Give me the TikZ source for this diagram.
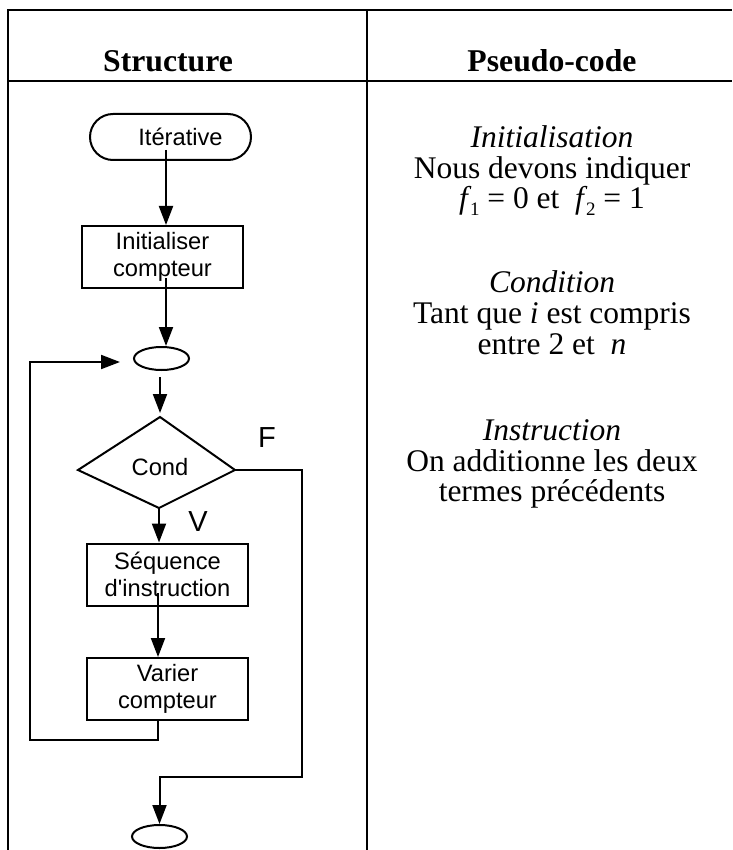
\documentclass[tikz,border=0pt]{standalone}
\usepackage{fontspec}
\setmainfont{Liberation Serif}
\newfontfamily\arial{Liberation Sans}
\usetikzlibrary{arrows.meta,shapes.geometric,calc}
% lowered index digit for f_1, f_2
\newcommand\lowidx[1]{\kern-1.5pt\raisebox{-0.22em}{\fontsize{19}{19}\selectfont #1}}

\begin{document}
\begin{tikzpicture}[x=1pt,y=-1pt,
  flow/.style={line width=2pt},
  arr/.style={flow,-{Triangle[length=19pt,width=14pt]}},
  tbl/.style={line width=2.3pt},
  sans/.style={font=\arial\fontsize{23.7}{26.5}\selectfont},
  stepbox/.style={draw,flow,sans,minimum width=161pt,minimum height=62pt,inner sep=0pt,align=center},
  term/.style={draw,flow,minimum width=161pt,minimum height=46pt,rounded corners=23pt,inner sep=0pt},
  junction/.style={draw,flow,ellipse,minimum width=55pt,minimum height=23pt,inner sep=0pt},
  branch/.style={font=\arial\fontsize{29}{29}\selectfont,inner sep=0pt},
  hdr/.style={font=\bfseries\fontsize{31.7}{32}\selectfont,anchor=base,inner sep=0pt},
  txt/.style={font=\fontsize{31.5}{32}\selectfont,anchor=base,inner sep=0pt},
]
\useasboundingbox (0,0) rectangle (732,850);

% table frame
\draw[tbl] (8,850) -- (8,10) -- (732,10);
\draw[tbl] (367,10) -- (367,850);
\draw[tbl] (8,81) -- (732,81);

% column headers
\node[hdr] (hstruct) at (168,72) {Structure};
\node[hdr] (hpseudo) at (552,72) {Pseudo-code};

% flowchart nodes
\node[term,label={[sans,xshift=10pt]center:Itérative}] (term) at (170.5,137) {};
\node[stepbox] (init) at (162.5,257) {Initialiser\\compteur};
\node[junction] (j1) at (161.5,358.5) {};
\coordinate (dT) at (160,417);
\coordinate (dR) at (235,470);
\coordinate (dB) at (159,508);
\coordinate (dL) at (78,470);
\draw[flow] (dT) -- (dR) -- (dB) -- (dL) -- cycle;
\node[sans,inner sep=0pt] (cond) at (160,467) {Cond};
\node[stepbox] (seq) at (167.5,574.5) {Séquence\\d'instruction};
\node[stepbox] (var) at (167.5,689) {Varier\\compteur};
\node[junction] (j2) at (159.5,836.5) {};
\node[branch] (lblF) at (267,438) {F};
\node[branch] (lblV) at (198,522) {V};

% connectors
\coordinate (s1) at (166,150);
\draw[arr] (s1) -- (s1 |- init.north);
\coordinate (s2) at (166,278);
\draw[arr] (s2) -- (s2 |- j1.north);
\draw[arr] ($(j1.south)+(-1.5,6)$) -- ($(dT)+(0,-4)$);
\draw[arr] (dB) -- (dB |- seq.north);
\coordinate (s5) at (158,593);
\draw[arr] (s5) -- (s5 |- var.north);

% loop back to the junction
\coordinate (s6) at (158,720);
\coordinate (lb) at (30,740);
\coordinate (loopend) at (120,362);
\draw[arr] (s6) |- (lb) |- (loopend);

% exit branch
\coordinate (fc) at (302,777);
\draw[arr] (dR) -| (fc) -- (fc -| j2.north) -- (j2.north);

% pseudo-code column
\node[txt] (t1) at (552,148) {\itshape Initialisation};
\node[txt] (t2) at (552,179) {Nous devons indiquer};
\node[txt] (t3) at (552,209) {\textit{f}\lowidx{1} = 0 et \ \textit{f}\lowidx{2} = 1};
\node[txt] (t4) at (552,292) {\itshape Condition};
\node[txt] (t5) at (552,323) {Tant que \textit{i} est compris};
\node[txt] (t6) at (552,354) {entre 2 et \ \textit{n}};
\node[txt] (t7) at (552,440) {\itshape Instruction};
\node[txt] (t8) at (552,471) {On additionne les deux};
\node[txt] (t9) at (552,501) {termes précédents};
\end{tikzpicture}
\end{document}
